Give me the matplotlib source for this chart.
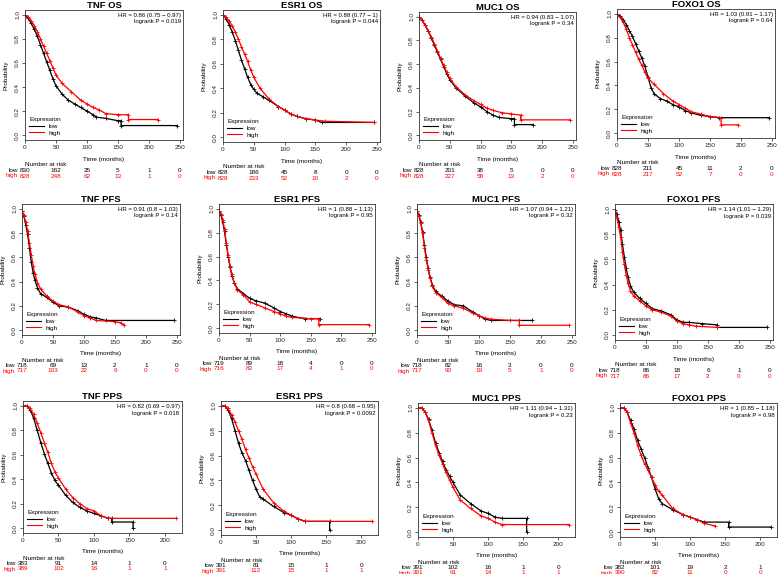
import matplotlib
matplotlib.use('Agg')
import matplotlib.pyplot as plt
from matplotlib.lines import Line2D
from matplotlib.transforms import blended_transform_factory

plt.rcParams['font.family'] = ['Liberation Sans', 'DejaVu Sans']

genes = ['TNF', 'ESR1', 'MUC1', 'FOXO1']
endpoints = ['OS', 'PFS', 'PPS']

# ---- survival curves (time in months, probability) ----
# OS
TNF_OS_low_t = [0, 5, 10, 15, 20, 25, 30, 35, 40, 45, 50, 60, 70, 80, 90, 100, 110, 115, 130, 150, 155, 155, 245]
TNF_OS_low_s = [1, 0.97, 0.93, 0.88, 0.82, 0.75, 0.68, 0.61, 0.54, 0.47, 0.41, 0.34, 0.29, 0.26, 0.23, 0.20, 0.17, 0.15, 0.14, 0.12, 0.12, 0.08, 0.08]
TNF_OS_high_t = [0, 5, 10, 15, 20, 25, 30, 35, 40, 45, 50, 60, 75, 90, 100, 110, 120, 130, 150, 167, 167, 215]
TNF_OS_high_s = [1, 0.98, 0.95, 0.91, 0.86, 0.80, 0.74, 0.68, 0.62, 0.56, 0.50, 0.43, 0.36, 0.29, 0.26, 0.23, 0.21, 0.18, 0.17, 0.17, 0.13, 0.13]

ESR1_OS_low_t = [0, 5, 10, 15, 20, 25, 30, 35, 40, 45, 50, 55, 65, 75, 90, 100, 110, 120, 135, 150, 160, 245]
ESR1_OS_low_s = [1, 0.97, 0.92, 0.86, 0.79, 0.71, 0.63, 0.56, 0.49, 0.43, 0.39, 0.36, 0.33, 0.30, 0.25, 0.22, 0.19, 0.17, 0.15, 0.14, 0.12, 0.12]
ESR1_OS_high_t = [0, 5, 10, 15, 20, 25, 30, 35, 40, 45, 50, 60, 75, 90, 100, 110, 120, 135, 150, 165, 245]
ESR1_OS_high_s = [1, 0.98, 0.95, 0.91, 0.86, 0.80, 0.74, 0.68, 0.62, 0.55, 0.49, 0.40, 0.31, 0.25, 0.22, 0.19, 0.17, 0.15, 0.14, 0.13, 0.12]

MUC1_OS_low_t = [0, 5, 10, 15, 20, 25, 30, 35, 40, 45, 50, 60, 75, 90, 100, 110, 120, 130, 150, 155, 155, 185]
MUC1_OS_low_s = [1, 0.97, 0.93, 0.88, 0.82, 0.76, 0.70, 0.64, 0.58, 0.52, 0.47, 0.40, 0.33, 0.27, 0.24, 0.20, 0.17, 0.15, 0.14, 0.14, 0.09, 0.09]
MUC1_OS_high_t = [0, 5, 10, 15, 20, 25, 30, 35, 40, 45, 50, 60, 75, 90, 100, 110, 120, 135, 150, 165, 165, 245]
MUC1_OS_high_s = [1, 0.97, 0.93, 0.88, 0.83, 0.77, 0.71, 0.65, 0.59, 0.53, 0.48, 0.41, 0.34, 0.29, 0.26, 0.23, 0.21, 0.19, 0.18, 0.17, 0.13, 0.13]

FOXO1_OS_low_t = [0, 5, 10, 15, 20, 25, 30, 35, 40, 45, 50, 55, 60, 70, 80, 90, 100, 110, 120, 135, 150, 165, 245]
FOXO1_OS_low_s = [1, 0.98, 0.95, 0.91, 0.86, 0.81, 0.75, 0.69, 0.63, 0.56, 0.47, 0.38, 0.33, 0.29, 0.27, 0.24, 0.22, 0.19, 0.17, 0.15, 0.14, 0.13, 0.13]
FOXO1_OS_high_t = [0, 5, 10, 15, 20, 25, 30, 35, 40, 45, 50, 60, 75, 90, 100, 110, 120, 135, 150, 168, 168, 195]
FOXO1_OS_high_s = [1, 0.97, 0.93, 0.87, 0.80, 0.74, 0.68, 0.62, 0.57, 0.51, 0.46, 0.41, 0.33, 0.27, 0.24, 0.21, 0.18, 0.16, 0.14, 0.13, 0.07, 0.07]

# PFS
TNF_PFS_low_t = [0, 3, 6, 9, 12, 15, 18, 21, 25, 30, 40, 50, 60, 75, 90, 100, 110, 120, 135, 245]
TNF_PFS_low_s = [0.98, 0.94, 0.87, 0.79, 0.68, 0.56, 0.47, 0.41, 0.35, 0.30, 0.27, 0.23, 0.20, 0.19, 0.16, 0.13, 0.11, 0.10, 0.08, 0.08]
TNF_PFS_high_t = [0, 3, 6, 9, 12, 15, 18, 21, 25, 30, 40, 50, 60, 75, 90, 100, 110, 120, 150, 160, 165]
TNF_PFS_high_s = [0.98, 0.95, 0.89, 0.82, 0.72, 0.62, 0.53, 0.46, 0.39, 0.34, 0.28, 0.24, 0.21, 0.19, 0.15, 0.12, 0.10, 0.08, 0.07, 0.06, 0.04]

ESR1_PFS_low_t = [0, 3, 6, 9, 12, 15, 18, 21, 25, 30, 40, 50, 60, 75, 90, 100, 110, 120, 140, 165]
ESR1_PFS_low_s = [0.98, 0.95, 0.89, 0.81, 0.70, 0.60, 0.51, 0.44, 0.38, 0.33, 0.29, 0.25, 0.23, 0.21, 0.17, 0.14, 0.12, 0.10, 0.08, 0.08]
ESR1_PFS_high_t = [0, 3, 6, 9, 12, 15, 18, 21, 25, 30, 40, 50, 60, 75, 90, 100, 110, 120, 150, 163, 163, 245]
ESR1_PFS_high_s = [0.98, 0.96, 0.91, 0.83, 0.71, 0.61, 0.52, 0.45, 0.38, 0.32, 0.28, 0.22, 0.20, 0.17, 0.14, 0.12, 0.10, 0.09, 0.08, 0.08, 0.03, 0.03]

MUC1_PFS_low_t = [0, 3, 6, 9, 12, 15, 18, 21, 25, 30, 40, 50, 60, 75, 90, 100, 110, 120, 185]
MUC1_PFS_low_s = [0.98, 0.95, 0.89, 0.81, 0.70, 0.60, 0.51, 0.44, 0.37, 0.32, 0.28, 0.24, 0.21, 0.20, 0.15, 0.12, 0.09, 0.08, 0.08]
MUC1_PFS_high_t = [0, 3, 6, 9, 12, 15, 18, 21, 25, 30, 40, 50, 60, 75, 90, 100, 110, 120, 150, 165, 165, 245]
MUC1_PFS_high_s = [0.98, 0.94, 0.88, 0.80, 0.68, 0.58, 0.50, 0.43, 0.36, 0.31, 0.27, 0.22, 0.20, 0.18, 0.14, 0.12, 0.10, 0.09, 0.08, 0.08, 0.04, 0.04]

FOXO1_PFS_low_t = [0, 3, 6, 9, 12, 15, 18, 21, 25, 30, 40, 50, 60, 75, 90, 100, 110, 120, 140, 165, 165, 245]
FOXO1_PFS_low_s = [0.99, 0.96, 0.90, 0.83, 0.72, 0.62, 0.53, 0.46, 0.39, 0.34, 0.29, 0.25, 0.21, 0.19, 0.16, 0.12, 0.10, 0.10, 0.09, 0.08, 0.06, 0.06]
FOXO1_PFS_high_t = [0, 3, 6, 9, 12, 15, 18, 21, 25, 30, 40, 50, 60, 75, 90, 100, 110, 120, 130, 165]
FOXO1_PFS_high_s = [0.97, 0.93, 0.86, 0.78, 0.66, 0.56, 0.48, 0.41, 0.35, 0.31, 0.27, 0.23, 0.20, 0.18, 0.15, 0.11, 0.09, 0.08, 0.07, 0.06]

# PPS
TNF_PPS_low_t = [0, 5, 10, 15, 20, 25, 30, 35, 40, 45, 50, 60, 70, 80, 90, 100, 110, 120, 125, 125, 155, 155]
TNF_PPS_low_s = [1, 1, 0.97, 0.90, 0.80, 0.70, 0.61, 0.53, 0.45, 0.39, 0.35, 0.27, 0.21, 0.17, 0.14, 0.12, 0.10, 0.08, 0.08, 0.05, 0.05, 0.0]
TNF_PPS_high_t = [0, 5, 10, 15, 20, 25, 30, 35, 40, 45, 50, 60, 70, 80, 90, 100, 110, 120, 215]
TNF_PPS_high_s = [1, 1, 0.98, 0.93, 0.86, 0.78, 0.70, 0.62, 0.53, 0.46, 0.41, 0.32, 0.25, 0.20, 0.16, 0.14, 0.10, 0.08, 0.08]

ESR1_PPS_low_t = [0, 5, 10, 15, 20, 25, 30, 35, 40, 45, 50, 55, 60, 75, 90, 100, 110, 120, 155, 155]
ESR1_PPS_low_s = [1, 1, 0.97, 0.90, 0.80, 0.70, 0.62, 0.56, 0.48, 0.40, 0.33, 0.27, 0.25, 0.19, 0.14, 0.12, 0.09, 0.07, 0.07, 0.0]
ESR1_PPS_high_t = [0, 5, 10, 15, 20, 25, 30, 35, 40, 45, 50, 60, 75, 90, 100, 110, 120, 215]
ESR1_PPS_high_s = [1, 1, 0.98, 0.93, 0.87, 0.80, 0.73, 0.65, 0.58, 0.51, 0.45, 0.33, 0.22, 0.15, 0.12, 0.09, 0.07, 0.07]

MUC1_PPS_low_t = [0, 5, 10, 15, 20, 25, 30, 35, 40, 45, 50, 60, 75, 90, 100, 110, 120, 155, 155]
MUC1_PPS_low_s = [1, 1, 0.97, 0.91, 0.82, 0.72, 0.64, 0.57, 0.50, 0.45, 0.40, 0.30, 0.23, 0.17, 0.15, 0.12, 0.11, 0.11, 0.0]
MUC1_PPS_high_t = [0, 5, 10, 15, 20, 25, 30, 35, 40, 45, 50, 60, 75, 90, 100, 110, 120, 215]
MUC1_PPS_high_s = [1, 1, 0.97, 0.90, 0.80, 0.70, 0.62, 0.55, 0.48, 0.42, 0.36, 0.26, 0.19, 0.13, 0.11, 0.08, 0.06, 0.06]

FOXO1_PPS_low_t = [0, 5, 10, 15, 20, 25, 30, 35, 40, 45, 50, 55, 60, 75, 90, 100, 110, 120, 155, 155, 215]
FOXO1_PPS_low_s = [1, 1, 0.97, 0.90, 0.83, 0.74, 0.67, 0.60, 0.52, 0.44, 0.35, 0.27, 0.23, 0.18, 0.14, 0.12, 0.10, 0.08, 0.08, 0.04, 0.04]
FOXO1_PPS_high_t = [0, 5, 10, 15, 20, 25, 30, 35, 40, 45, 50, 55, 60, 75, 90, 100, 110, 120, 135]
FOXO1_PPS_high_s = [1, 1, 0.97, 0.88, 0.80, 0.70, 0.62, 0.55, 0.50, 0.44, 0.38, 0.33, 0.30, 0.19, 0.14, 0.12, 0.10, 0.07, 0.05]

# ---- number at risk ----
TNF_OS_risk_low = [830, 162, 35, 5, 1, 0]
TNF_OS_risk_high = [828, 248, 62, 13, 1, 0]
ESR1_OS_risk_low = [828, 186, 45, 8, 0, 0]
ESR1_OS_risk_high = [828, 233, 52, 10, 2, 0]
MUC1_OS_risk_low = [828, 201, 38, 5, 0, 0]
MUC1_OS_risk_high = [828, 227, 58, 13, 2, 0]
FOXO1_OS_risk_low = [828, 211, 45, 11, 2, 0]
FOXO1_OS_risk_high = [828, 217, 52, 7, 0, 0]
TNF_PFS_risk_low = [718, 69, 13, 2, 1, 0]
TNF_PFS_risk_high = [717, 103, 22, 6, 0, 0]
ESR1_PFS_risk_low = [719, 89, 18, 4, 0, 0]
ESR1_PFS_risk_high = [716, 83, 17, 4, 1, 0]
MUC1_PFS_risk_low = [718, 82, 16, 3, 0, 0]
MUC1_PFS_risk_high = [717, 90, 19, 5, 1, 0]
FOXO1_PFS_risk_low = [718, 86, 18, 6, 1, 0]
FOXO1_PFS_risk_high = [717, 86, 17, 2, 0, 0]
TNF_PPS_risk_low = [383, 91, 14, 1, 0]
TNF_PPS_risk_high = [389, 102, 16, 1, 1]
ESR1_PPS_risk_low = [391, 81, 15, 1, 0]
ESR1_PPS_risk_high = [391, 112, 15, 1, 1]
MUC1_PPS_risk_low = [391, 102, 16, 1, 0]
MUC1_PPS_risk_high = [391, 91, 14, 1, 1]
FOXO1_PPS_risk_low = [382, 101, 19, 2, 1]
FOXO1_PPS_risk_high = [390, 82, 11, 0, 0]

# ---- hazard ratios and logrank p ----
hr_text = {
    ('TNF', 'OS'): ('0.86 (0.75 \u2212 0.97)', '0.019'),
    ('ESR1', 'OS'): ('0.88 (0.77 \u2212 1)', '0.044'),
    ('MUC1', 'OS'): ('0.94 (0.83 \u2212 1.07)', '0.34'),
    ('FOXO1', 'OS'): ('1.03 (0.91 \u2212 1.17)', '0.64'),
    ('TNF', 'PFS'): ('0.91 (0.8 \u2212 1.03)', '0.14'),
    ('ESR1', 'PFS'): ('1 (0.88 \u2212 1.13)', '0.95'),
    ('MUC1', 'PFS'): ('1.07 (0.94 \u2212 1.21)', '0.32'),
    ('FOXO1', 'PFS'): ('1.14 (1.01 \u2212 1.29)', '0.039'),
    ('TNF', 'PPS'): ('0.82 (0.69 \u2212 0.97)', '0.018'),
    ('ESR1', 'PPS'): ('0.8 (0.68 \u2212 0.95)', '0.0092'),
    ('MUC1', 'PPS'): ('1.11 (0.94 \u2212 1.31)', '0.23'),
    ('FOXO1', 'PPS'): ('1 (0.85 \u2212 1.18)', '0.98'),
}

# panel boxes in pixels: left, top, right, bottom
boxes = [
    [(25, 10, 183, 140), (223, 10, 380, 142), (419, 12, 576, 140), (617, 9, 775, 138)],
    [(22, 204, 180, 335), (219, 204, 375, 333), (417, 204, 575, 335), (615, 204, 773, 340)],
    [(23, 401, 182, 533), (221, 401, 378, 535), (418, 403, 575, 537), (620, 403, 777, 537)],
]

W, H = 778, 574
fig = plt.figure(figsize=(W / 100, H / 100), dpi=100)
g = globals()
fs = 4.6

for r, ep in enumerate(endpoints):
    for c, gene in enumerate(genes):
        key = gene + '_' + ep
        l, t, rr, b = boxes[r][c]
        ax = fig.add_axes([l / W, 1 - b / H, (rr - l) / W, (b - t) / H])
        ax.plot(g[key + '_low_t'], g[key + '_low_s'], color='black', lw=0.9,
                marker='+', ms=3, mew=0.6)
        ax.plot(g[key + '_high_t'], g[key + '_high_s'], color='red', lw=0.9,
                marker='+', ms=3, mew=0.6)

        if ep == 'PPS':
            xt = [0, 50, 100, 150, 200]
            ax.set_xlim(0, 224)
        else:
            xt = [0, 50, 100, 150, 200, 250]
            ax.set_xlim(0, 255)
        ax.set_ylim(-0.04, 1.04)
        ax.set_xticks(xt)
        ax.set_yticks([0, 0.2, 0.4, 0.6, 0.8, 1.0])
        ax.set_yticklabels(['0.0', '0.2', '0.4', '0.6', '0.8', '1.0'], rotation=90, va='center')
        ax.tick_params(labelsize=fs, length=2, width=0.5, pad=1.5, colors='#222222')
        for sp in ax.spines.values():
            sp.set_linewidth(0.6)
            sp.set_color('#333333')

        ax.set_title(gene + ' ' + ep, fontsize=6.8, fontweight='bold', pad=-0.5)
        hr, p = hr_text[(gene, ep)]
        ax.text(0.985, 0.975, 'HR = ' + hr + '\nlogrank P = ' + p, transform=ax.transAxes,
                ha='right', va='top', fontsize=4.3, linespacing=1.3, multialignment='right')

        handles = [Line2D([], [], color='black', lw=0.8), Line2D([], [], color='red', lw=0.8)]
        ax.legend(handles, ['low', 'high'], loc='lower left', frameon=False, fontsize=fs,
                  title='Expression', title_fontsize=fs, handlelength=2.2, handletextpad=0.8,
                  labelspacing=0.2, borderaxespad=0.3, alignment='left')

        ax.annotate('Probability', xy=(0, 0.5), xycoords='axes fraction', xytext=(-19, 0),
                    textcoords='offset pixels', rotation=90, ha='center', va='center', fontsize=fs)
        ax.annotate('Time (months)', xy=(0.5, 0), xycoords='axes fraction', xytext=(0, -19),
                    textcoords='offset pixels', ha='center', va='center', fontsize=fs)

        tr = blended_transform_factory(ax.transData, ax.transAxes)
        ax.annotate('Number at risk', xy=(0, 0), xycoords=tr, xytext=(0, -25),
                    textcoords='offset pixels', ha='left', va='center', fontsize=fs)
        for lab, col, dy in [('low', 'black', -30.5), ('high', 'red', -36)]:
            ax.annotate(lab, xy=(0, 0), xycoords=tr, xytext=(-7, dy),
                        textcoords='offset pixels', ha='right', va='center', fontsize=fs, color=col)
            for x, n in zip(xt, g[key + '_risk_' + lab]):
                ax.annotate(str(n), xy=(x, 0), xycoords=tr, xytext=(0, dy),
                            textcoords='offset pixels', ha='center', va='center',
                            fontsize=fs, color=col, annotation_clip=False)

fig.savefig('out.png', dpi=100)
